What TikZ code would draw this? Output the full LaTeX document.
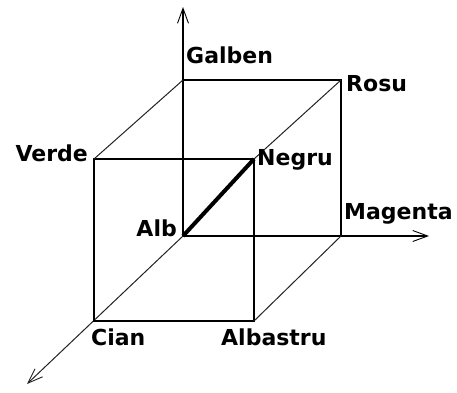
\documentclass[tikz,border=0pt]{standalone}
\usepackage{fontspec}
\setmainfont{DejaVu Sans}
\usetikzlibrary{arrows.meta}
\definecolor{ink}{HTML}{000000}
\definecolor{hatch}{HTML}{222222}

\tikzset{
  lbl/.style={inner sep=0pt,font=\fontsize{22}{24}\selectfont\bfseries,text=ink},
  edge/.style={line width=1.4pt,ink},
  depth/.style={line width=1pt,hatch},
  axis/.style={-{Straight Barb[length=15pt,width=11pt,line width=0.9pt]}}
}

\begin{document}
\begin{tikzpicture}[x=1pt,y=-1pt]
    \useasboundingbox (0,0) rectangle (457,392);
    % corners of the cube
    \coordinate (alb) at (183,236);
    \coordinate (gal) at (183,80);
    \coordinate (ros) at (341,80);
    \coordinate (mag) at (341,236);
    \coordinate (ver) at (94,159);
    \coordinate (neg) at (254,159);
    \coordinate (abs) at (254,321);
    \coordinate (cia) at (94,321);
    % axis ends
    \coordinate (ytip) at (183,7);
    \coordinate (xtip) at (429,236);
    \coordinate (ztip) at (27,384);
    % axes
    \draw[edge,axis] (alb)--(ytip);
    \draw[edge,axis] (alb)--(xtip);
    \draw[depth,axis] (alb)--(ztip);
    % back face
    \draw[edge] (gal)--(ros)--(mag);
    % front face
    \draw[edge] (ver)--(neg)--(abs)--(cia)--cycle;
    % depth edges
    \draw[depth] (gal)--(ver);
    \draw[depth] (ros)--(neg);
    \draw[depth] (mag)--(abs);
    % thick diagonal
    \draw[line width=4pt,ink] (alb)--(neg);
    % labels
    \node[lbl,anchor=base west] (lgal) at (186,63) {Galben};
    \node[lbl,anchor=base west] (lros) at (346,91) {Rosu};
    \node[lbl,anchor=base east] (lver) at (88,161) {Verde};
    \node[lbl,anchor=base west] (lneg) at (257,165) {Negru};
    \node[lbl,anchor=base east] (lalb) at (177,236) {Alb};
    \node[lbl,anchor=base west] (lmag) at (344,219) {Magenta};
    \node[lbl,anchor=base west] (lcia) at (91,345) {Cian};
    \node[lbl,anchor=base west] (labs) at (221,345) {Albastru};
  \end{tikzpicture}
\end{document}
